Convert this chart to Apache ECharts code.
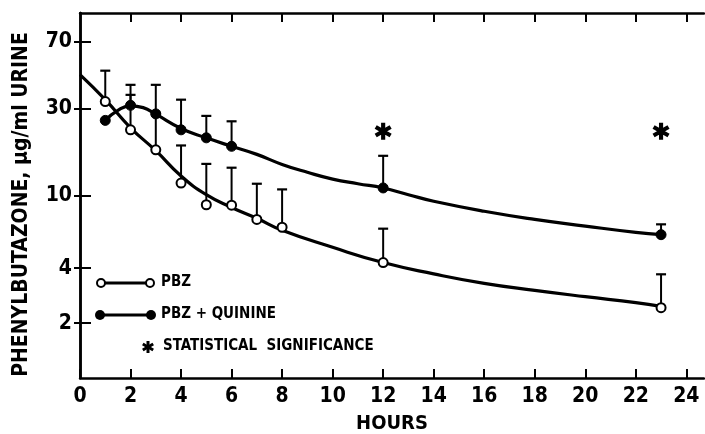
<!DOCTYPE html>
<html>
<head>
<meta charset="utf-8">
<script src="https://cdn.jsdelivr.net/npm/echarts@6/dist/echarts.min.js"></script>
<style>
html,body{margin:0;padding:0;background:#fff;}
#chart{width:705px;height:434px;}
</style>
</head>
<body>
<div id="chart"></div>
<script>
// ---- data ----
const xTicks = [0, 2, 4, 6, 8, 10, 12, 14, 16, 18, 20, 22, 24];
const yTicks = [2, 4, 10, 30, 70];

const pbzHours = [1, 2, 3, 4, 5, 6, 7, 8, 12, 23];
const pbzMean  = [32.7, 22.9, 17.8, 11.7, 8.9, 8.85, 7.39, 6.7, 4.29, 2.43];
const pbzUpper = [48.3, 35.6, 28.0, 18.8, 14.9, 14.2, 11.6, 10.8, 6.58, 3.7];

const quinHours = [1, 2, 3, 4, 5, 6, 12, 23];
const quinMean  = [25.8, 31.2, 28.0, 22.9, 20.7, 18.6, 11.0, 6.1];
const quinUpper = [null, 40.4, 40.4, 33.5, 27.3, 25.5, 16.5, 6.95];

const pbzFitHours = [0, 1, 2, 3, 4, 5, 6, 7, 8, 10, 12, 14, 16, 18, 20, 22, 23];
const pbzFit      = [46, 33.5, 23.5, 17.6, 12.8, 10.1, 8.6, 7.5, 6.45, 5.2, 4.29, 3.72, 3.3, 3.02, 2.79, 2.59, 2.47];

const quinFitHours = [1, 1.5, 2, 2.5, 3, 4, 5, 6, 7, 8, 9, 10, 11, 12, 13, 14, 16, 18, 20, 22, 23];
const quinFit      = [25.8, 29.3, 31.0, 30.3, 27.9, 23.3, 20.7, 18.6, 16.8, 14.8, 13.4, 12.3, 11.6, 11.0, 10.1, 9.3, 8.2, 7.4, 6.8, 6.28, 6.1];

const sigHours = [12, 23];
const sigLevel = [22.5, 22.5];

// ---- helpers ----
const FONT = "'Liberation Sans Narrow', 'DejaVu Sans Condensed', 'Liberation Sans', sans-serif";
function asteriskArms(cx, cy, L, w) {
  return [90, 30, -30].map(a => {
    const r = a * Math.PI / 180;
    const dx = Math.cos(r), dy = Math.sin(r);
    const nx = -dy, ny = dx;
    return [
      [cx + L * dx + w * nx, cy + L * dy + w * ny],
      [cx - L * dx + w * nx, cy - L * dy + w * ny],
      [cx - L * dx - w * nx, cy - L * dy - w * ny],
      [cx + L * dx - w * nx, cy + L * dy - w * ny]
    ];
  });
}
function asteriskPath() {
  let s = 'path://';
  asteriskArms(10, 10, 10, 2.4).forEach(pts => {
    const p = pts.map(q => q[0].toFixed(2) + ' ' + q[1].toFixed(2));
    s += 'M' + p[0] + 'L' + p[1] + 'L' + p[2] + 'L' + p[3] + 'Z';
  });
  return s;
}
const ASTER = asteriskPath();

function errRender(params, api) {
  const x = api.value(0), lo = api.value(1), hi = api.value(2);
  const p1 = api.coord([x, lo]);
  const p2 = api.coord([x, hi]);
  return {
    type: 'group',
    children: [
      { type: 'line', shape: { x1: p1[0], y1: p1[1], x2: p2[0], y2: p2[1] }, style: { stroke: '#000', lineWidth: 2 } },
      { type: 'line', shape: { x1: p2[0] - 5, y1: p2[1], x2: p2[0] + 5, y2: p2[1] }, style: { stroke: '#000', lineWidth: 2.2 } }
    ]
  };
}

const pbzErr = pbzHours.map((h, i) => [h, pbzMean[i], pbzUpper[i]]).filter(d => d[2] != null);
const quinErr = quinHours.map((h, i) => [h, quinMean[i], quinUpper[i]]).filter(d => d[2] != null);

const chart = echarts.init(document.getElementById('chart'));
const axisLine = { show: true, lineStyle: { color: '#000', width: 2.5 } };
const labelStyle = { color: '#000', fontFamily: FONT, fontWeight: 'bold', fontSize: 21 };

const legendAster = asteriskArms(148, 347, 6, 1.5).map(pts => ({
  type: 'polygon', shape: { points: pts }, style: { fill: '#000' }
}));

chart.setOption({
  animation: false,
  backgroundColor: '#fff',
  grid: { left: 80, top: 13, right: 1, bottom: 56, containLabel: false, outerBoundsMode: 'none' },
  xAxis: [{
    type: 'value', min: 0, max: 24.7, interval: 2,
    axisLine: axisLine,
    axisTick: { show: true, inside: true, length: 9, lineStyle: { color: '#000', width: 2 }, customValues: xTicks },
    axisLabel: { ...labelStyle, margin: 8, customValues: xTicks },
    splitLine: { show: false },
    name: 'HOURS', nameLocation: 'middle', nameGap: 36, nameMoveOverlap: false,
    nameTextStyle: { color: '#000', fontFamily: FONT, fontWeight: 'bold', fontSize: 20 }
  }, {
    type: 'value', min: 0, max: 24.7, interval: 2, position: 'top',
    axisLine: axisLine,
    axisTick: { show: true, inside: true, length: 9, lineStyle: { color: '#000', width: 2 }, customValues: xTicks.slice(1) },
    axisLabel: { show: false },
    splitLine: { show: false }
  }],
  yAxis: [{
    type: 'log', logBase: 10, min: 1, max: 100,
    axisLine: axisLine,
    axisTick: { show: true, inside: true, length: 11, lineStyle: { color: '#000', width: 2 }, customValues: yTicks },
    axisLabel: { ...labelStyle, margin: 8, customValues: yTicks },
    minorTick: { show: false },
    splitLine: { show: false },
    name: 'PHENYLBUTAZONE, \u03bcg/ml URINE', nameLocation: 'middle', nameGap: 48, nameMoveOverlap: false,
    nameTextStyle: { color: '#000', fontFamily: FONT, fontWeight: 'bold', fontSize: 21, padding: [0, 18, 0, 0] }
  }, {
    type: 'log', logBase: 10, min: 1, max: 100, position: 'right',
    axisLine: axisLine,
    axisTick: { show: true, inside: true, length: 6, lineStyle: { color: '#000', width: 2 }, customValues: yTicks },
    axisLabel: { show: false },
    splitLine: { show: false }
  }],
  series: [
    {
      type: 'line', name: 'PBZ fit', data: pbzFitHours.map((h, i) => [h, pbzFit[i]]),
      smooth: 0.5, showSymbol: false, symbol: 'none', lineStyle: { color: '#000', width: 3.2 }, z: 2
    },
    {
      type: 'line', name: 'PBZ + QUININE fit', data: quinFitHours.map((h, i) => [h, quinFit[i]]),
      smooth: 0.5, showSymbol: false, symbol: 'none', lineStyle: { color: '#000', width: 3.2 }, z: 2
    },
    { type: 'custom', name: 'PBZ err', renderItem: errRender, data: pbzErr, z: 3 },
    { type: 'custom', name: 'PBZ + QUININE err', renderItem: errRender, data: quinErr, z: 3 },
    {
      type: 'scatter', name: 'PBZ', data: pbzHours.map((h, i) => [h, pbzMean[i]]),
      symbol: 'circle', symbolSize: 9, itemStyle: { color: '#fff', borderColor: '#000', borderWidth: 2, opacity: 1 }, z: 5
    },
    {
      type: 'scatter', name: 'PBZ + QUININE', data: quinHours.map((h, i) => [h, quinMean[i]]),
      symbol: 'circle', symbolSize: 10, itemStyle: { color: '#000', borderColor: '#000', borderWidth: 1, opacity: 1 }, z: 5
    },
    {
      type: 'scatter', name: 'significance', data: sigHours.map((h, i) => [h, sigLevel[i]]),
      symbol: ASTER, symbolSize: 17, itemStyle: { color: '#000', opacity: 1 }, z: 5
    }
  ],
  graphic: [
    { type: 'line', shape: { x1: 101, y1: 283, x2: 150, y2: 283 }, style: { stroke: '#000', lineWidth: 3 } },
    { type: 'circle', shape: { cx: 101, cy: 283, r: 4 }, style: { fill: '#fff', stroke: '#000', lineWidth: 2 } },
    { type: 'circle', shape: { cx: 150, cy: 283, r: 4 }, style: { fill: '#fff', stroke: '#000', lineWidth: 2 } },
    { type: 'text', left: 161, top: 275, style: { text: 'PBZ', font: "bold 15px " + FONT, fill: '#000' } },
    { type: 'line', shape: { x1: 100, y1: 315, x2: 151, y2: 315 }, style: { stroke: '#000', lineWidth: 3 } },
    { type: 'circle', shape: { cx: 100, cy: 315, r: 5 }, style: { fill: '#000' } },
    { type: 'circle', shape: { cx: 151, cy: 315, r: 5 }, style: { fill: '#000' } },
    { type: 'text', left: 161, top: 307, style: { text: 'PBZ + QUININE', font: "bold 15px " + FONT, fill: '#000' } },
    ...legendAster,
    { type: 'text', left: 163, top: 339, style: { text: 'STATISTICAL  SIGNIFICANCE', font: "bold 15px " + FONT, fill: '#000' } }
  ]
});
</script>
</body>
</html>
